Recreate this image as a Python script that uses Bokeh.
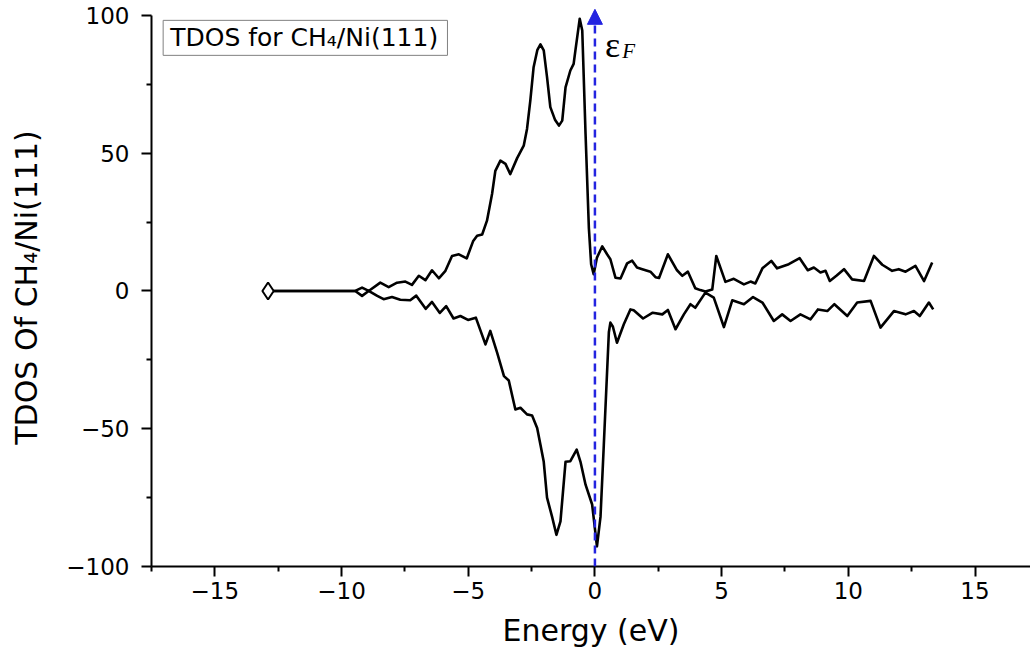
from bokeh.plotting import figure
from bokeh.models import Range1d, FixedTicker, CustomJSTickFormatter, Arrow, NormalHead, Label
from bokeh.embed import file_html
from bokeh.resources import INLINE
from bokeh.core.properties import value

# Spin-up TDOS (positive branch)
energy_up = [-12.90, -9.46, -9.19, -8.93, -8.47, -8.14, -7.81, -7.48, -7.22, -6.95,
             -6.69, -6.43, -6.16, -5.90, -5.64, -5.37, -5.06, -4.81, -4.65, -4.45,
             -4.26, -4.06, -3.93, -3.73, -3.53, -3.34, -3.07, -2.81, -2.68, -2.55,
             -2.42, -2.27, -2.15, -2.02, -1.89, -1.76, -1.57, -1.42, -1.29, -1.16,
             -0.97, -0.84, -0.77, -0.60, -0.50, -0.37, -0.24, -0.15, -0.05, 0.08,
             0.29, 0.48, 0.61, 0.81, 1.01, 1.27, 1.47, 1.66, 1.87, 2.19,
             2.39, 2.53, 2.88, 3.24, 3.45, 3.67, 3.96, 4.16, 4.36, 4.63,
             4.79, 5.15, 5.48, 5.88, 6.14, 6.33, 6.61, 6.96, 7.19, 7.65,
             8.08, 8.40, 8.64, 8.90, 9.10, 9.27, 9.53, 9.83, 10.15, 10.62,
             11.01, 11.34, 11.73, 11.99, 12.26, 12.65, 12.99, 13.31]
tdos_up = [0.0, 0.0, 1.2, 0.0, 3.0, 1.4, 3.0, 3.4, 2.2, 5.5,
           3.9, 7.5, 4.6, 7.3, 12.7, 13.3, 11.8, 18.0, 20.0, 20.5,
           25.5, 35.2, 43.6, 47.3, 46.1, 42.4, 48.2, 52.7, 58.8, 69.1,
           81.2, 87.5, 89.5, 87.3, 77.6, 66.7, 62.0, 60.0, 61.8, 73.9,
           80.0, 82.4, 87.3, 98.8, 94.5, 57.0, 23.0, 9.7, 6.1, 12.1,
           16.2, 13.3, 11.5, 4.8, 4.5, 10.0, 11.0, 8.5, 7.9, 7.0,
           5.0, 4.7, 13.3, 7.5, 5.5, 7.0, 1.0, 0.3, -0.2, 0.5,
           12.7, 3.3, 4.4, 2.4, 3.4, 2.7, 8.2, 10.9, 8.2, 9.7,
           11.9, 7.5, 8.5, 6.7, 7.3, 3.6, 5.5, 7.9, 4.2, 3.6,
           12.7, 9.5, 7.3, 7.9, 7.0, 9.1, 3.6, 10.3]

# Spin-down TDOS (negative branch)
energy_down = [-12.90, -9.46, -9.19, -8.93, -8.59, -8.34, -8.01, -7.68, -7.29, -7.05,
               -6.68, -6.43, -6.12, -5.87, -5.58, -5.31, -5.01, -4.70, -4.32, -4.13,
               -3.86, -3.59, -3.40, -3.14, -2.94, -2.68, -2.48, -2.28, -2.15, -2.02,
               -1.89, -1.69, -1.52, -1.36, -1.16, -0.97, -0.72, -0.57, -0.37, -0.11,
               0.08, 0.22, 0.35, 0.55, 0.61, 0.71, 0.87, 1.14, 1.40, 1.53,
               1.90, 2.28, 2.66, 2.88, 3.18, 3.51, 3.77, 3.96, 4.36, 4.69,
               5.09, 5.42, 5.88, 6.24, 6.61, 7.06, 7.39, 7.72, 8.11, 8.51,
               8.80, 9.17, 9.45, 9.96, 10.35, 10.88, 11.27, 11.80, 12.26, 12.59,
               12.82, 13.18, 13.35]
tdos_down = [0.0, 0.0, -1.8, 0.0, -1.8, -3.0, -2.2, -3.2, -3.4, -1.7,
             -6.5, -4.0, -8.0, -5.5, -10.0, -9.1, -10.5, -9.7, -19.4, -14.5,
             -22.4, -30.9, -32.5, -43.0, -42.4, -44.8, -45.2, -49.7, -55.8, -62.0,
             -75.0, -82.0, -88.5, -83.6, -62.0, -61.8, -57.6, -62.0, -70.3, -77.5,
             -92.7, -82.0, -56.0, -15.0, -11.5, -13.0, -18.8, -12.1, -6.7, -7.0,
             -10.0, -7.9, -8.5, -6.9, -13.9, -8.5, -4.8, -6.1, -0.6, -2.4,
             -13.1, -3.4, -4.8, -2.2, -4.2, -10.9, -8.5, -10.9, -8.5, -10.3,
             -6.7, -7.3, -4.8, -9.1, -4.2, -3.6, -13.3, -7.3, -8.5, -7.3,
             -9.1, -4.2, -6.7]

marker_energy = [-12.90]
marker_tdos = [0.0]

x_ticks = [-15, -10, -5, 0, 5, 10, 15]
x_minor = [-17.5, -12.5, -7.5, -2.5, 2.5, 7.5, 12.5]
y_ticks = [-100, -50, 0, 50, 100]
y_minor = [-75, -25, 25, 75]
fermi_energy = 0.0

legend_text = "TDOS for CH\u2084/Ni(111)"
x_label = "Energy (eV)"
y_label = "TDOS Of CH\u2084/Ni(111)"

p = figure(width=1030, height=654,
           x_range=Range1d(-17.5, 17.19), y_range=Range1d(-100, 102.5),
           output_backend="svg", toolbar_location=None,
           min_border_left=151, min_border_right=0,
           min_border_top=8, min_border_bottom=88)
p.outline_line_color = None
p.grid.visible = False
p.background_fill_color = "white"
p.border_fill_color = "white"

minus_fmt = CustomJSTickFormatter(code="return tick < 0 ? '\u2212' + Math.abs(tick) : String(tick);")

for ax in (p.xaxis[0], p.yaxis[0]):
    ax.axis_line_width = 2
    ax.axis_line_color = "black"
    ax.major_tick_line_width = 2
    ax.minor_tick_line_width = 2
    ax.major_tick_in = 0
    ax.major_tick_out = 10
    ax.minor_tick_in = 0
    ax.minor_tick_out = 5
    ax.major_label_text_font = "DejaVu Sans"
    ax.major_label_text_font_size = "23px"
    ax.major_label_text_color = "black"
    ax.axis_label_text_font = "DejaVu Sans"
    ax.axis_label_text_font_size = "30px"
    ax.axis_label_text_font_style = "normal"
    ax.axis_label_text_color = "black"
    ax.formatter = minus_fmt

p.xaxis[0].ticker = FixedTicker(ticks=x_ticks, minor_ticks=x_minor)
p.yaxis[0].ticker = FixedTicker(ticks=y_ticks, minor_ticks=y_minor)
p.yaxis[0].bounds = (-100, 100)
p.xaxis[0].axis_label = x_label
p.yaxis[0].axis_label = y_label
p.xaxis[0].major_label_standoff = 5
p.yaxis[0].major_label_standoff = 12
p.xaxis[0].axis_label_standoff = 11
p.yaxis[0].axis_label_standoff = 19

p.line(energy_up, tdos_up, line_color="black", line_width=2.6, line_join="round")
p.line(energy_down, tdos_down, line_color="black", line_width=2.6, line_join="round")
p.scatter(marker_energy, marker_tdos, marker="diamond", size=17,
          fill_color="white", line_color="black", line_width=2)

# Fermi level arrow
p.add_layout(Arrow(x_start=fermi_energy, y_start=-100, x_end=fermi_energy, y_end=102.2,
                   line_color="#2424e0", line_width=2.5, line_dash="8 5",
                   end=NormalHead(size=15, fill_color="#2424e0", line_color="#2424e0", line_width=1)))
p.add_layout(Label(x=0.40, y=89.3, text="\u03b5", text_font="Liberation Serif",
                   text_font_size="36px", text_color="black", text_baseline="alphabetic"))
p.add_layout(Label(x=1.08, y=87.0, text="F", text_font="Liberation Serif",
                   text_font_size="21px", text_font_style="italic", text_color="black",
                   text_baseline="alphabetic"))

# Legend-like text box
p.quad(left=[-17.04], right=[-5.82], top=[98.2], bottom=[85.5],
       fill_color="white", line_color="#808080", line_width=1)
p.add_layout(Label(x=-16.76, y=91.8, text=legend_text, text_font="DejaVu Sans",
                   text_font_size="25px", text_color="black", text_baseline="middle"))

open("out.html", "w").write(file_html(p, INLINE))
